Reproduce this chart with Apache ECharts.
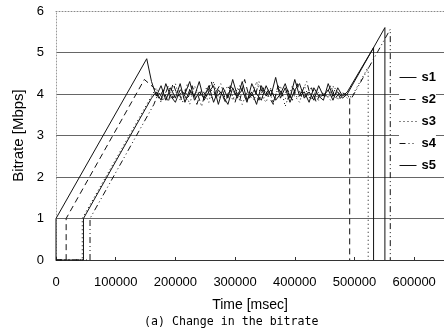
<!DOCTYPE html>
<html>
<head>
<meta charset="utf-8">
<script src="https://cdn.jsdelivr.net/npm/echarts@6/dist/echarts.min.js"></script>
<style>html,body{margin:0;padding:0;background:#fff}#c{width:444px;height:332px}</style>
</head>
<body>
<div id="c"></div>
<script>
// Tick labels / axes
const yTicks = [0, 1, 2, 3, 4, 5, 6];
const xTicks = [0, 100000, 200000, 300000, 400000, 500000, 600000];
const seriesNames = ['s1', 's2', 's3', 's4', 's5'];

// Shared sample times of the steady (noisy) phase, msec
const bandTimesA = [160000,168000,176000,184000,192000,200000,208000,216000,224000,232000,240000,248000,256000,264000,272000,280000,288000,296000,304000,312000,320000,328000,336000,344000,352000,360000,368000,376000,384000,392000,400000,408000,416000,424000,432000,440000,448000,456000,464000,472000,480000,488000];
const bandTimesB = [164000,172000,180000,188000,196000,204000,212000,220000,228000,236000,244000,252000,260000,268000,276000,284000,292000,300000,308000,316000,324000,332000,340000,348000,356000,364000,372000,380000,388000,396000,404000,412000,420000,428000,436000,444000,452000,460000,468000,476000,484000];

// Bitrate values (Mbps) in the steady phase
const s1Band = [4.30,3.95,4.20,3.85,4.15,3.90, 4.25,3.80,4.10,3.95,4.30,3.85, 4.05,4.20,3.75,4.15,3.90,4.35, 3.95,4.10,3.80,4.25,4.00,3.85, 4.20,3.95,4.40,3.90,4.15,3.80, 4.10,4.25,3.90,4.05,3.85,4.20, 3.95,4.10,3.85,4.15,3.95,4.05];
const s2Band = [4.15,3.90,4.10,3.80,4.25,3.95, 4.05,3.85,4.20,3.75,4.10,3.95, 4.30,3.90,4.05,3.80,4.20,4.00, 3.85,4.35,3.90,4.10,3.85,4.15, 3.95,3.75,4.20,3.95,4.10,3.85, 4.25,3.90,4.00,4.15,3.80,4.05, 3.95,4.20,3.90,4.05,4.00];
const s3Band = [3.95,4.15,3.80,4.05,3.90,4.25, 3.85,4.10,3.75,4.20,3.95,4.05, 3.80,4.30,3.90,4.00,4.20,3.85, 4.15,3.75,4.05,3.90,4.30,3.95, 3.80,4.15,3.90,4.20,3.70,4.05, 3.95,3.80,4.20,3.90,4.10,3.85, 4.05,3.90,4.20,3.85,4.00,3.90];
const s4Band = [3.75,4.05,3.85,4.20,3.90,4.10, 3.80,4.25,3.95,4.05,3.70,4.15, 3.90,4.05,4.25,3.85,4.10,3.80, 4.20,3.95,4.05,3.85,4.30,3.90, 4.10,3.80,4.15,3.95,3.85,4.20, 3.90,4.05,4.30,3.85,4.10,3.95, 4.00,3.85,4.15,3.90,3.95];
const s5Band = [3.90,4.05,3.85,4.25,3.95,3.80, 4.10,4.00,4.30,3.85,4.05,3.90, 4.20,3.80,4.10,3.95,3.75,4.15, 3.90,4.30,3.85,4.05,3.75,4.20, 3.95,4.10,3.85,4.00,4.25,3.90, 4.35,3.95,4.05,3.80,4.15,3.95, 3.85,4.25,3.95,4.05,3.90,4.00];

// Start-up phase [time, Mbps]
const s1Head = [[0,0],[0,1],[152000,4.85]];
const s2Head = [[0,0],[17000,0],[17000,1],[148000,4.35]];
const s3Head = [[0,0],[44000,0],[44000,1]];
const s4Head = [[0,0],[57000,0],[57000,1]];
const s5Head = [[0,0],[46000,0],[46000,1]];

// Final ramp and stop [time, Mbps]
const s1Tail = [[532000,5.12],[532000,0]];
const s2Tail = [[492000,3.95],[492000,0]];
const s3Tail = [[496000,3.95],[523000,4.65],[523000,0]];
const s4Tail = [[496000,3.92],[560000,5.56],[560000,0]];
const s5Tail = [[551000,5.60],[551000,0]];

function build(head, times, band, tail) {
  const d = head.slice();
  for (let i = 0; i < band.length; i++) d.push([times[i], band[i]]);
  return d.concat(tail);
}
const seriesData = [
  build(s1Head, bandTimesA, s1Band, s1Tail),
  build(s2Head, bandTimesB, s2Band, s2Tail),
  build(s3Head, bandTimesA, s3Band, s3Tail),
  build(s4Head, bandTimesB, s4Band, s4Tail),
  build(s5Head, bandTimesA, s5Band, s5Tail)
];
const dashes = ['solid', [6, 4], [1, 3], [6, 3, 1, 3, 1, 3], 'solid'];

const chart = echarts.init(document.getElementById('c'), null, {renderer: 'canvas'});
const FONT = 'Liberation Sans, Arial, sans-serif';
chart.setOption({
  animation: false,
  backgroundColor: '#fff',
  title: {
    text: '(a) Change in the bitrate',
    left: 144, top: 316, padding: 0,
    textStyle: {fontSize: 11.6, fontWeight: 'normal', color: '#000', fontFamily: 'DejaVu Sans Mono, monospace'}
  },
  grid: {left: 56, top: 11, width: 390, height: 249},
  legend: {
    orient: 'vertical', left: 399, top: 71, padding: [0, 0, 0, 0],
    itemWidth: 17, itemHeight: 10, itemGap: 9,
    backgroundColor: '#fff',
    itemStyle: {opacity: 0},
    lineStyle: {width: 1},
    textStyle: {fontSize: 13, fontWeight: 'bold', color: '#000', fontFamily: FONT},
    data: seriesNames
  },
  xAxis: [{
    type: 'value', min: 0, max: 650000, interval: 100000, position: 'bottom',
    name: 'Time [msec]', nameLocation: 'middle', nameGap: 38,
    nameTextStyle: {fontSize: 14, color: '#000', fontFamily: FONT},
    axisLine: {show: true, lineStyle: {color: '#333', width: 1}},
    axisTick: {show: true, inside: true, length: 3, lineStyle: {color: '#333'}},
    axisLabel: {fontSize: 13, color: '#000', margin: 16, fontFamily: FONT, showMaxLabel: false,
      formatter: v => (xTicks.indexOf(v) >= 0 ? String(v) : '')},
    splitLine: {show: false}
  }, {
    type: 'value', min: 0, max: 650000, position: 'top',
    axisLine: {show: true, lineStyle: {color: '#888', type: [1, 2], width: 1}},
    axisTick: {show: false}, axisLabel: {show: false}, splitLine: {show: false}
  }],
  yAxis: {
    type: 'value', min: 0, max: 6, interval: 1,
    name: 'Bitrate [Mbps]', nameLocation: 'middle', nameGap: 29,
    nameTextStyle: {fontSize: 15, color: '#000', fontFamily: FONT},
    axisLine: {show: true, lineStyle: {color: '#999', type: [1, 2], width: 1}},
    axisTick: {show: false},
    axisLabel: {fontSize: 13, color: '#000', margin: 12, fontFamily: FONT,
      formatter: v => (yTicks.indexOf(v) >= 0 ? String(v) : '')},
    splitLine: {show: true, showMinLine: false, showMaxLine: false, lineStyle: {color: '#666', width: 1}}
  },
  series: seriesNames.map((n, i) => ({
    name: n, type: 'line', xAxisIndex: 0, symbol: 'none', showSymbol: false,
    data: seriesData[i],
    lineStyle: {color: '#111', width: 1, type: dashes[i]},
    itemStyle: {color: '#111'}
  }))
});
</script>
</body>
</html>
